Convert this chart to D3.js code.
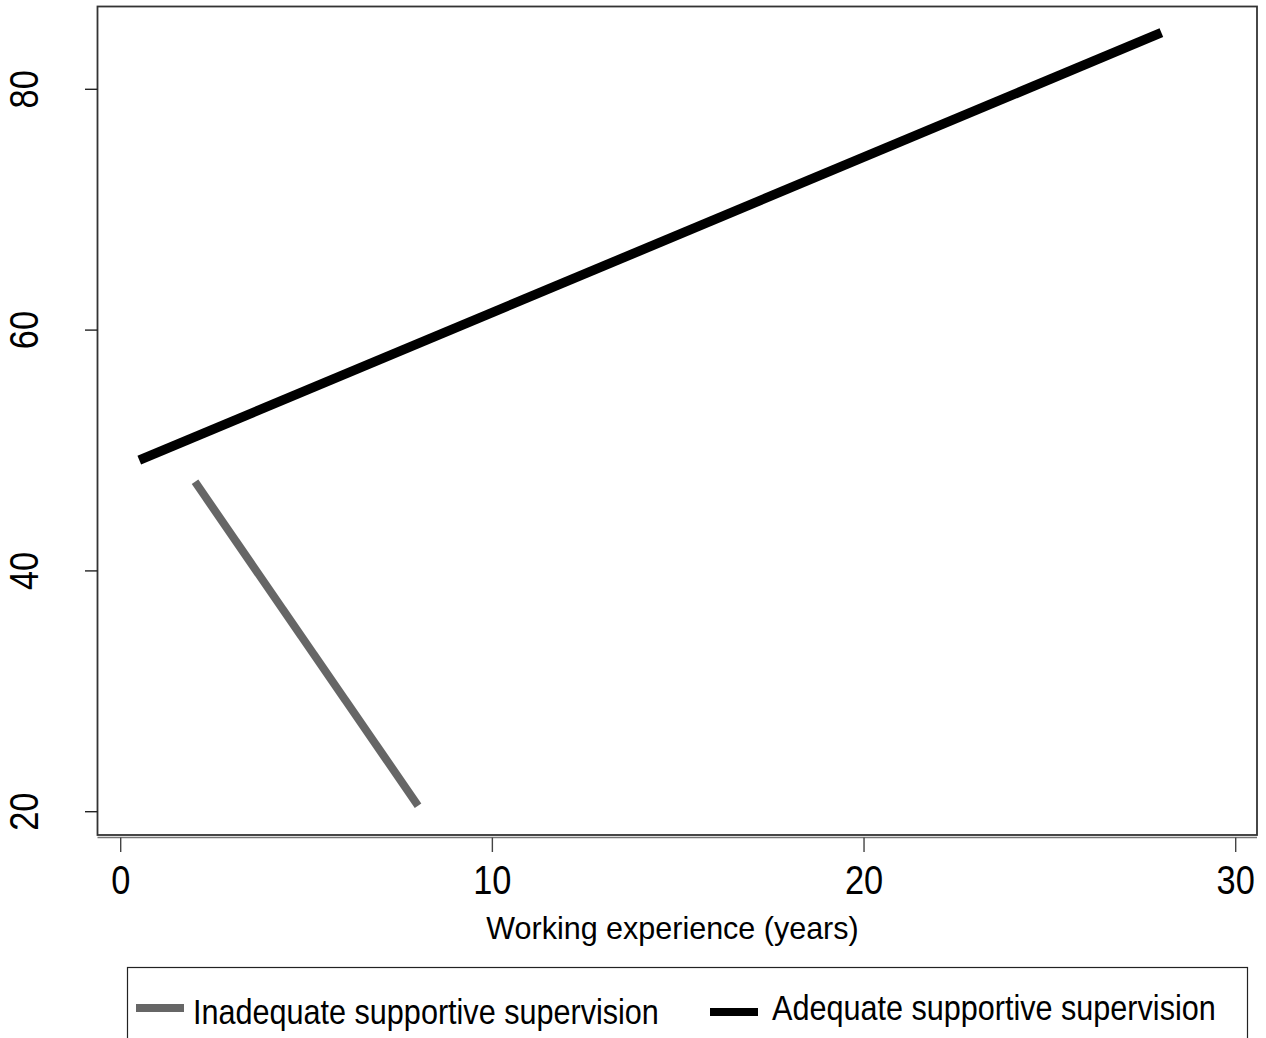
<!DOCTYPE html>
<html>
<head>
<meta charset="utf-8">
<script src="https://cdn.jsdelivr.net/npm/d3@7"></script>
<style>
  html, body { margin: 0; padding: 0; background: #fff; }
  svg { display: block; }
  text { font-family: "Liberation Sans", Arial, sans-serif; fill: #000; }
</style>
</head>
<body>
<svg id="chart" width="1266" height="1038"></svg>
<script>
// ---- data ----
const seriesNames = ["Inadequate supportive supervision", "Adequate supportive supervision"];
const seriesColors = ["#666666", "#000000"];
const inadequateX = [2, 8];
const inadequateY = [47.4, 20.5];
const adequateX = [0.5, 28];
const adequateY = [49.2, 84.7];
const xTicks = [0, 10, 20, 30];
const yTicks = [20, 40, 60, 80];
const xTitle = "Working experience (years)";

const svg = d3.select("#chart");
const frame = {left: 97.5, top: 6.5, right: 1257, bottom: 835};

const x = d3.scaleLinear().domain([0, 30]).range([120.7, 1235.7]);
const y = d3.scaleLinear().domain([20, 80]).range([811.7, 89.3]);

// plot frame
svg.append("rect")
  .attr("x", frame.left).attr("y", frame.top)
  .attr("width", frame.right - frame.left).attr("height", frame.bottom - frame.top)
  .attr("fill", "none").attr("stroke", "#333").attr("stroke-width", 1.8);

// y axis ticks
const yAxis = svg.append("g").attr("transform", `translate(${frame.left},0)`);
yAxis.selectAll("line").data(yTicks).enter().append("line")
  .attr("x1", -12.5).attr("x2", 0)
  .attr("y1", d => y(d)).attr("y2", d => y(d))
  .attr("stroke", "#222").attr("stroke-width", 1.4);
yAxis.selectAll("text").data(yTicks).enter().append("text")
  .attr("transform", d => `translate(-59.5,${y(d)}) rotate(-90) scale(0.86,1)`)
  .attr("text-anchor", "middle")
  .attr("font-size", 40)
  .text(d => d);

// x axis
const xAxisY = 837.5;
svg.append("line")
  .attr("x1", frame.left).attr("x2", frame.right)
  .attr("y1", xAxisY).attr("y2", xAxisY)
  .attr("stroke", "#777").attr("stroke-width", 1.4);
const xAxis = svg.append("g");
xAxis.selectAll("line").data(xTicks).enter().append("line")
  .attr("x1", d => x(d)).attr("x2", d => x(d))
  .attr("y1", xAxisY).attr("y2", xAxisY + 14.5)
  .attr("stroke", "#444").attr("stroke-width", 1.4);
xAxis.selectAll("text").data(xTicks).enter().append("text")
  .attr("transform", d => `translate(${x(d)},894) scale(0.86,1)`)
  .attr("text-anchor", "middle")
  .attr("font-size", 40)
  .text(d => d);

svg.append("text")
  .attr("x", 672.5).attr("y", 938.5)
  .attr("text-anchor", "middle")
  .attr("font-size", 30.5)
  .text(xTitle);

// lines
const line = d3.line().x(d => x(d[0])).y(d => y(d[1]));
const series = [
  {pts: d3.zip(inadequateX, inadequateY), color: seriesColors[0], w: 8},
  {pts: d3.zip(adequateX, adequateY), color: seriesColors[1], w: 9.5}
];
svg.selectAll("path.series").data(series).enter().append("path")
  .attr("class", "series")
  .attr("d", d => line(d.pts))
  .attr("fill", "none")
  .attr("stroke", d => d.color)
  .attr("stroke-width", d => d.w)
  .attr("stroke-linecap", "butt");

// legend
svg.append("rect")
  .attr("x", 127.5).attr("y", 967.5)
  .attr("width", 1120).attr("height", 90)
  .attr("fill", "none").attr("stroke", "#222").attr("stroke-width", 1.2);

const legendItems = [
  {name: seriesNames[0], color: seriesColors[0], sx: 136, tx: 193},
  {name: seriesNames[1], color: seriesColors[1], sx: 710, tx: 772}
];
const lg = svg.selectAll("g.leg").data(legendItems).enter().append("g").attr("class", "leg");
lg.append("line")
  .attr("x1", d => d.sx).attr("x2", d => d.sx + 48)
  .attr("y1", (d, i) => i === 0 ? 1008 : 1012).attr("y2", (d, i) => i === 0 ? 1008 : 1012)
  .attr("stroke", d => d.color).attr("stroke-width", 8);
lg.append("text")
  .attr("transform", (d, i) => `translate(${d.tx},${i === 0 ? 1024 : 1020}) scale(0.85,1)`)
  .attr("font-size", 36)
  .text(d => d.name);
</script>
</body>
</html>
